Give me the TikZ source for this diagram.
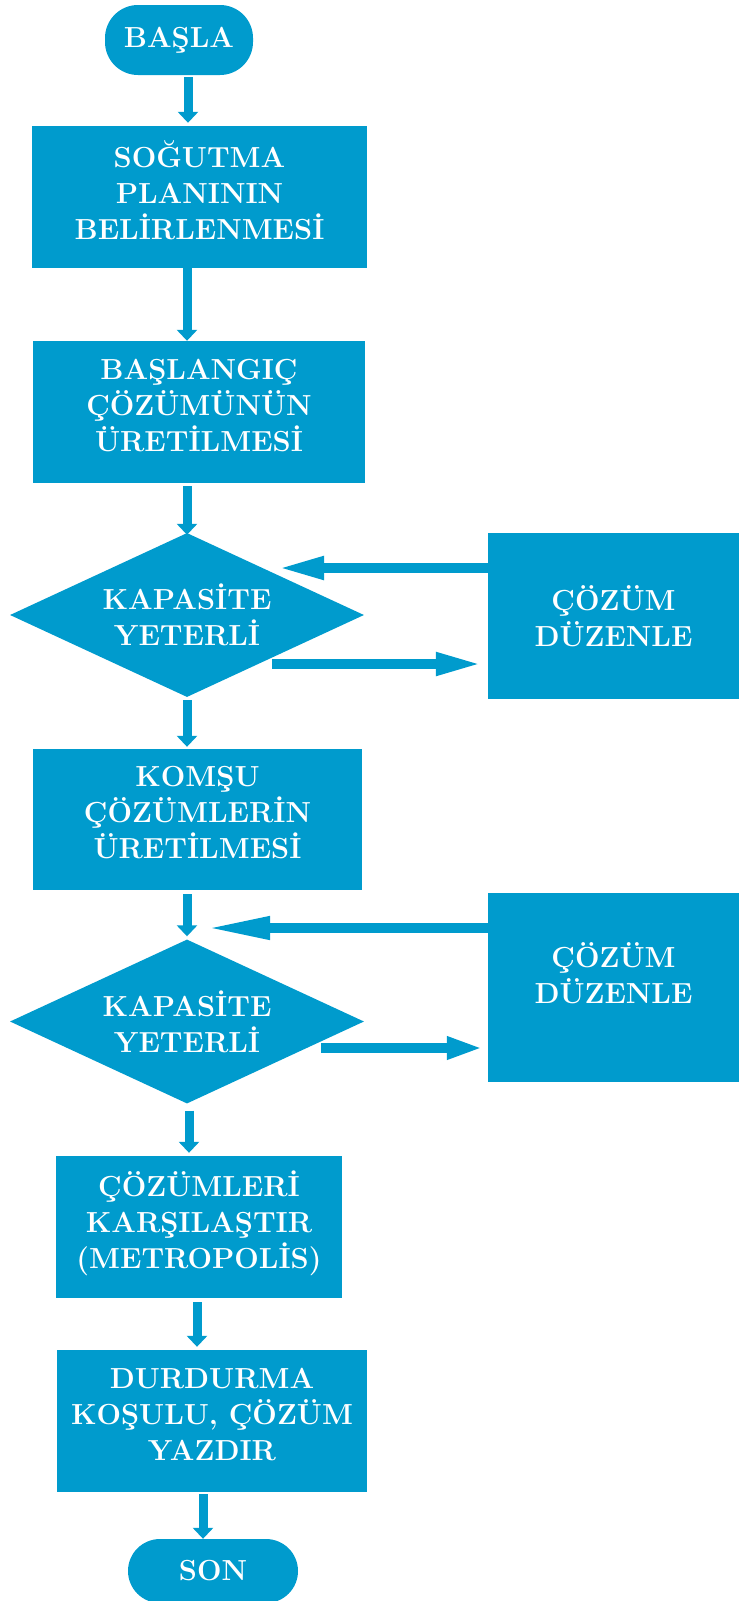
\documentclass[tikz,border=0pt]{standalone}
\usetikzlibrary{shapes.geometric}
\usetikzlibrary{arrows.meta}
\definecolor{flowblue}{RGB}{0,155,205}

\begin{document}
\begin{tikzpicture}[x=1pt,y=-1pt,
  flowtxt/.style={fill=flowblue, draw=none, inner sep=0pt, text=white, align=center, font=\fontsize{29}{36}\selectfont\bfseries},
  box/.style={flowtxt, text depth=14pt},
  sidebox/.style={flowtxt, minimum width=251pt},
  term/.style={flowtxt, rounded corners=33pt},
  cond/.style={flowtxt, diamond, aspect=2.16, minimum width=354pt, minimum height=164pt},
  vflow/.style={draw=flowblue, line width=9pt, -{Triangle[length=11pt,width=20pt]}},
  hflow/.style={draw=flowblue, line width=10pt, -{Triangle[length=47pt,width=21pt]}}]
\useasboundingbox (0,0) rectangle (739,1601);

%Terminal: start
\node[term, minimum width=148pt, minimum height=70pt] (start) at (179,40) {BAŞLA};
%Process boxes
\node[box, minimum width=335pt, minimum height=142pt] (plan) at (199.5,197) {SOĞUTMA\\PLANININ\\BELİRLENMESİ};
\node[box, minimum width=332pt, minimum height=142pt] (init) at (199,412) {BAŞLANGIÇ\\ÇÖZÜMÜNÜN\\ÜRETİLMESİ};
%Decision 1 and its repair box
\node[cond] (cap1) at (187,615) {KAPASİTE\\YETERLİ};
\node[sidebox, minimum height=166pt] (fix1) at (613.5,616) {ÇÖZÜM\\DÜZENLE};
\node[box, minimum width=329pt, minimum height=141pt] (komsu) at (197.5,819.5) {KOMŞU\\ÇÖZÜMLERİN\\ÜRETİLMESİ};
%Decision 2 and its repair box
\node[cond] (cap2) at (187,1021.5) {KAPASİTE\\YETERLİ};
\node[sidebox, minimum height=189pt] (fix2) at (613.5,987.5) {};
\node[flowtxt, fill=none] (fix2txt) at ([yshift=14pt]fix2.center) {ÇÖZÜM\\DÜZENLE};
\node[box, minimum width=286pt, minimum height=142pt] (cmp) at (199,1227) {ÇÖZÜMLERİ\\KARŞILAŞTIR\\(METROPOLİS)};
\node[box, minimum width=310pt, minimum height=142pt] (stop) at (212,1421) {DURDURMA\\KOŞULU, ÇÖZÜM\\YAZDIR};
%Terminal: finish
\node[term, rounded corners=32pt, minimum width=170pt, minimum height=64pt] (finish) at (213,1571) {SON};

%Down arrows
\draw[vflow, shorten <=2pt, shorten >=3pt] ([xshift=9pt]start.south) -- ([xshift=-11.5pt]plan.north);
\draw[vflow] ([xshift=-12.5pt]plan.south) -- ([xshift=-12pt]init.north);
\draw[vflow, shorten <=3pt, shorten >=-2pt] ([xshift=-12pt]init.south) -- (cap1.north);
\draw[vflow, shorten <=3pt, shorten >=2pt] (cap1.south) -- ([xshift=-10.5pt]komsu.north);
\draw[vflow, shorten <=4pt, shorten >=3pt] ([xshift=-10.5pt]komsu.south) -- (cap2.north);
\draw[vflow, shorten <=7pt, shorten >=3pt] ([xshift=2pt]cap2.south) -- ([xshift=-10pt]cmp.north);
\draw[vflow, shorten <=4pt, shorten >=3pt] ([xshift=-2pt]cmp.south) -- ([xshift=-15pt]stop.north);
\draw[vflow, shorten <=2pt] ([xshift=-9pt]stop.south) -- ([xshift=-10pt]finish.north);

%Side loops
\coordinate (back1) at (277,568);
\draw[hflow] (fix1.west |- back1) -- (back1);
\coordinate (out1) at (272,664);
\draw[hflow, shorten >=5pt] (out1) -- (out1 -| fix1.west);
\coordinate (back2) at (205,928);
\draw[hflow, -{Triangle[length=65pt,width=21pt]}] (fix2.west |- back2) -- (back2);
\coordinate (out2) at (321,1048);
\draw[hflow, -{Triangle[length=36pt,width=21pt]}, shorten >=5pt] (out2) -- (out2 -| fix2.west);

\end{tikzpicture}
\end{document}
